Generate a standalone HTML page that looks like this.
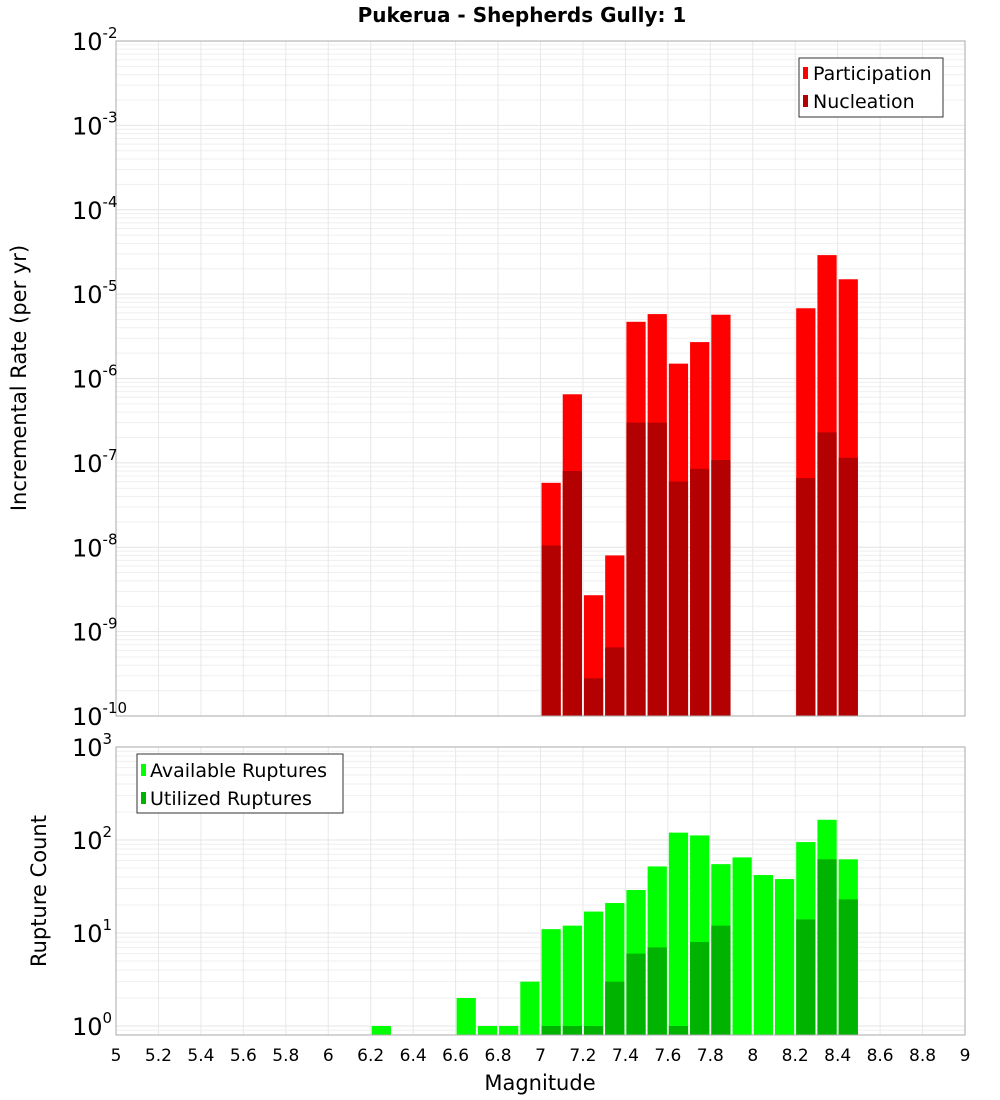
<!DOCTYPE html>
<html><head><meta charset="utf-8"><style>
html,body{margin:0;padding:0;background:#fff;}
svg{display:block;font-family:"DejaVu Sans","Liberation Sans",sans-serif;}
</style></head><body>
<svg id="chart" width="1000" height="1100" viewBox="0 0 1000 1100">
<text x="522" y="22" text-anchor="middle" font-size="20" font-weight="bold">Pukerua - Shepherds Gully: 1</text>
<g id="topPanel"></g>
<g id="botPanel"></g>
<text transform="translate(26,378) rotate(-90)" text-anchor="middle" font-size="21">Incremental Rate (per yr)</text>
<text transform="translate(46,891) rotate(-90)" text-anchor="middle" font-size="21">Rupture Count</text>
<text x="540" y="1090" text-anchor="middle" font-size="21">Magnitude</text>
<g>
<rect x="799" y="58" width="144" height="59" fill="#fff" stroke="#333"/>
<rect x="803" y="67" width="5" height="12" fill="#ff0000"/>
<text x="813" y="80" font-size="19">Participation</text>
<rect x="803" y="95" width="5" height="12" fill="#b30000"/>
<text x="813" y="108" font-size="19">Nucleation</text>
</g>
<g>
<rect x="137" y="754" width="206" height="59" fill="#fff" stroke="#333"/>
<rect x="141" y="764" width="5" height="12" fill="#00ff00"/>
<text x="150" y="777" font-size="19">Available Ruptures</text>
<rect x="141" y="792" width="5" height="12" fill="#00b300"/>
<text x="150" y="805" font-size="19">Utilized Ruptures</text>
</g>
</svg>
<script>
const rateMags=[7.0,7.1,7.2,7.3,7.4,7.5,7.6,7.7,7.8,8.2,8.3,8.4];
const participation=[5.8e-8,6.5e-7,2.7e-9,8e-9,4.7e-6,5.8e-6,1.5e-6,2.7e-6,5.7e-6,6.8e-6,2.9e-5,1.5e-5];
const nucleation=[1.05e-8,8e-8,2.8e-10,6.5e-10,3e-7,3e-7,6e-8,8.5e-8,1.08e-7,6.6e-8,2.3e-7,1.15e-7];
const countMags=[6.2,6.6,6.7,6.8,6.9,7.0,7.1,7.2,7.3,7.4,7.5,7.6,7.7,7.8,7.9,8.0,8.1,8.2,8.3,8.4];
const available=[1,2,1,1,3,11,12,17,21,29,52,120,112,55,65,42,38,95,165,62];
const utilized=[0,0,0,0,0,1,1,1,3,6,7,1,8,12,0,0,0,14,62,23];
const xTicks=[5,5.2,5.4,5.6,5.8,6,6.2,6.4,6.6,6.8,7,7.2,7.4,7.6,7.8,8,8.2,8.4,8.6,8.8,9];
const rateExps=[-2,-3,-4,-5,-6,-7,-8,-9,-10];
const countExps=[3,2,1,0];

const NS="http://www.w3.org/2000/svg";
const X0=116,X1=965;
function xs(m){return X0+(m-5)/4*(X1-X0);}
function el(p,t,a){const e=document.createElementNS(NS,t);for(const k in a)e.setAttribute(k,a[k]);p.appendChild(e);return e;}
const topY=v=>41+(-2-Math.log10(v))*84.375;
const botY=v=>1026-Math.log10(v)*93;

function panel(g,y0,y1,yf,expMin,expMax){
  el(g,'rect',{x:X0,y:y0,width:X1-X0,height:y1-y0,fill:'#fff'});
  for(let e=expMin-1;e<=expMax;e++){for(let k=1;k<10;k++){const v=k*Math.pow(10,e);const y=yf(v);if(y<y0||y>y1)continue;
    const l=el(g,'line',{x1:X0,x2:X1,y1:y,y2:y,stroke:k==1?'#e4e4e4':'#efefef','stroke-width':1});
    
    }}
  for(const t of xTicks){const x=xs(t);const l=el(g,'line',{x1:x,x2:x,y1:y0,y2:y1,stroke:'#e8e8e8'});
    
    }
}
const topPanel=document.getElementById('topPanel'),botPanel=document.getElementById('botPanel');
panel(topPanel,41,716,topY,-10,-2);
panel(botPanel,747,1035,botY,0,3);
const bw=xs(5.1)-xs(5)-2;
rateMags.forEach((m,i)=>{
  const x=xs(m)+1;
  let y=topY(participation[i]);
  const r=el(topPanel,'rect',{x:x,y:y,width:bw,height:716-y,fill:'#ff0000'});
  
  
  y=topY(nucleation[i]);
  const r2=el(topPanel,'rect',{x:x,y:y,width:bw,height:716-y,fill:'#b30000'});
  
  
});
countMags.forEach((m,i)=>{
  const x=xs(m)+1;
  if(available[i]>0){const y=botY(available[i]);
    const r=el(botPanel,'rect',{x:x,y:y,width:bw,height:1035-y,fill:'#00ff00'});
    
    }
  if(utilized[i]>0){const y=botY(utilized[i]);
    const r=el(botPanel,'rect',{x:x,y:y,width:bw,height:1035-y,fill:'#00b300'});
    
    }
});
el(topPanel,'rect',{x:X0,y:41,width:X1-X0,height:675,fill:'none',stroke:'#aaa'});
el(botPanel,'rect',{x:X0,y:747,width:X1-X0,height:288,fill:'none',stroke:'#aaa'});
const svg=document.getElementById('chart');
function expLabel(y,e,name){
  const t=el(svg,'text',{x:72,y:y+9,'font-size':24});
  
  
  t.textContent='10';
  const s=el(t,'tspan',{dy:-12,'font-size':15});s.textContent=String(e);
}
rateExps.forEach(e=>expLabel(topY(Math.pow(10,e)),e,'rate-y-tick-label'));
countExps.forEach(e=>expLabel(botY(Math.pow(10,e)),e,'count-y-tick-label'));
xTicks.forEach(t=>{const tx=el(svg,'text',{x:xs(t),y:1061,'text-anchor':'middle','font-size':17});
  
  
  tx.textContent=String(t);});
</script>
</body></html>
